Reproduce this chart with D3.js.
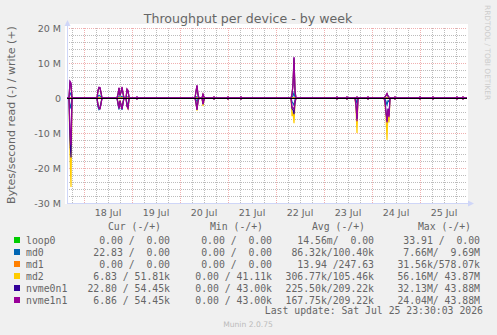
<!DOCTYPE html>
<html>
<head>
<meta charset="utf-8">
<script src="https://cdn.jsdelivr.net/npm/d3@7"></script>
<style>
  body { margin: 0; background: #f0f0f0; }
  svg { display: block; }
  text { fill: #666666; }
  .mono { font-family: "DejaVu Sans Mono", monospace; font-size: 9.8px; white-space: pre; }
</style>
</head>
<body>
<script>
// sample times (30 min steps, only the samples around activity are listed)
var times = [
  "2026-07-17 15:30",
  "2026-07-17 16:30","2026-07-17 17:00","2026-07-17 17:30","2026-07-17 18:00",
  "2026-07-18 06:30","2026-07-18 07:00","2026-07-18 07:30","2026-07-18 08:00","2026-07-18 08:30","2026-07-18 09:00",
  "2026-07-18 16:30","2026-07-18 17:00","2026-07-18 17:30","2026-07-18 18:00","2026-07-18 18:30","2026-07-18 19:00","2026-07-18 19:30","2026-07-18 20:00",
  "2026-07-18 21:00","2026-07-18 21:30","2026-07-18 22:00","2026-07-18 22:30","2026-07-18 23:00",
  "2026-07-19 02:00","2026-07-19 02:30","2026-07-19 03:00",
  "2026-07-20 07:30","2026-07-20 08:00","2026-07-20 08:30","2026-07-20 09:00","2026-07-20 09:30",
  "2026-07-20 11:00","2026-07-20 11:30","2026-07-20 12:00","2026-07-20 12:30",
  "2026-07-20 16:30","2026-07-20 17:00","2026-07-20 17:30",
  "2026-07-20 23:30","2026-07-21 00:00","2026-07-21 00:30",
  "2026-07-21 06:00","2026-07-21 06:30","2026-07-21 07:00",
  "2026-07-22 07:30","2026-07-22 08:00","2026-07-22 08:30","2026-07-22 09:00","2026-07-22 09:30","2026-07-22 10:00",
  "2026-07-23 06:00","2026-07-23 06:30","2026-07-23 07:00",
  "2026-07-23 11:00","2026-07-23 11:30","2026-07-23 12:00",
  "2026-07-23 15:30","2026-07-23 16:00","2026-07-23 16:30","2026-07-23 17:00",
  "2026-07-23 21:30","2026-07-23 22:00","2026-07-23 22:30",
  "2026-07-24 06:00","2026-07-24 06:30","2026-07-24 07:00","2026-07-24 07:30","2026-07-24 08:00","2026-07-24 08:30","2026-07-24 09:00",
  "2026-07-24 11:00","2026-07-24 11:30","2026-07-24 12:00",
  "2026-07-24 23:30","2026-07-25 00:00","2026-07-25 00:30",
  "2026-07-25 06:00","2026-07-25 06:30","2026-07-25 07:00",
  "2026-07-25 18:00","2026-07-25 18:30","2026-07-25 19:00",
  "2026-07-25 21:00","2026-07-25 21:30","2026-07-25 22:00",
  "2026-07-25 23:30"
];

// values in MB/s (read drawn below zero, write above)
var md0Read = [0,
  0,2,3,0,
  0,2.5,3.3,3.0,1.5,0,
  0,1.8,3.3,0.8,2.2,3.4,1.2,0,
  0,1.5,2.0,0.2,0,
  0,0.05,0,
  0,0.5,1.0,0.3,0,
  0,0.3,0.1,0,
  0,0.05,0,
  0,0.05,0,
  0,0.05,0,
  0,1.0,1.5,2.0,0.5,0,
  0,0.05,0,
  0,0.05,0,
  0,0.5,1.5,0,
  0,0.05,0,
  0,0.3,1.0,2.0,0.8,1.0,0,
  0,0.05,0,
  0,0.05,0,
  0,0.05,0,
  0,0.05,0,
  0,0.05,0,
  0];
var md0Write = [0,
  0,1.5,1,0,
  0,0.5,0.8,0.6,0.3,0,
  0,0.2,0.4,0.1,0.3,0.5,0.2,0,
  0,0.3,0.3,0,0,
  0,0.05,0,
  0,0.2,0.4,0.1,0,
  0,0.1,0,0,
  0,0.05,0,
  0,0.05,0,
  0,0.05,0,
  0,0.2,0.6,1.5,0.3,0,
  0,0.05,0,
  0,0.05,0,
  0,0,0.05,0,
  0,0.05,0,
  0,0,0.1,0.2,0.1,0,0,
  0,0.05,0,
  0,0.05,0,
  0,0.05,0,
  0,0.05,0,
  0,0.05,0,
  0];
var md2Read = [0,
  0,16,25.4,0,
  0,1.9,2.9,3.0,1.5,0,
  0,1.4,2.9,0.7,1.9,3.1,1.3,0,
  0,2.2,3.3,0.5,0,
  0,0.2,0,
  0,1.4,3.6,1.0,0,
  0,2.3,0.6,0,
  0,0.25,0,
  0,0.25,0,
  0,0.25,0,
  0,5.2,4.0,7.2,1.5,0,
  0,0.25,0,
  0,0.25,0,
  0,3.0,10.0,0,
  0,0.25,0,
  0,1.5,5.0,12.0,3.5,7.0,0,
  0,0.25,0,
  0,0.25,0,
  0,0.25,0,
  0,0.25,0,
  0,0.25,0,
  0];
var md2Write = [0,
  0,4.5,3.5,0,
  0,2.0,2.9,2.8,1.5,0,
  0,1.0,2.8,0.7,1.6,3.0,1.3,0,
  0,2.4,2.0,0.2,0,
  0,0.2,0,
  0,1.8,3.4,0.9,0,
  0,1.0,0.2,0,
  0,0.25,0,
  0,0.25,0,
  0,0.25,0,
  0,0.9,3.7,11.2,1.8,0,
  0,0.25,0,
  0,0.25,0,
  0,0.1,0.3,0,
  0,0.25,0,
  0,0.3,0.7,1.2,0.5,0.2,0,
  0,0.25,0,
  0,0.25,0,
  0,0.25,0,
  0,0.25,0,
  0,0.25,0,
  0];
var nvme0n1Read = [0,
  0,12,17,0,
  0,2.0,2.9,2.9,1.5,0,
  0,1.4,2.9,0.8,1.9,3.1,1.4,0,
  0,2.3,2.8,0.3,0,
  0,0.25,0,
  0,1.4,3.3,0.9,0,
  0,1.7,0.4,0,
  0,0.25,0,
  0,0.25,0,
  0,0.25,0,
  0,3.0,3.4,4.6,1.4,0,
  0,0.25,0,
  0,0.25,0,
  0,2.0,6.0,0,
  0,0.25,0,
  0,1.0,4.0,6.6,3.0,5.0,0,
  0,0.25,0,
  0,0.25,0,
  0,0.25,0,
  0,0.25,0,
  0,0.25,0,
  0];
var nvme0n1Write = [0,
  0,4.6,4.0,0,
  0,2.0,3.0,2.9,1.5,0,
  0,1.0,2.8,0.7,1.6,3.0,1.3,0,
  0,2.4,2.0,0.2,0,
  0,0.25,0,
  0,1.8,3.5,0.9,0,
  0,1.0,0.3,0,
  0,0.25,0,
  0,0.25,0,
  0,0.25,0,
  0,0.9,3.8,11.5,1.8,0,
  0,0.25,0,
  0,0.25,0,
  0,0.1,0.3,0,
  0,0.25,0,
  0,0.3,0.7,1.2,0.6,0.2,0,
  0,0.25,0,
  0,0.25,0,
  0,0.25,0,
  0,0.25,0,
  0,0.25,0,
  0];
var nvme1n1Read = [0,
  0,9,13.5,0,
  0,2.0,3.0,3.1,1.8,0,
  0,1.5,3.0,0.8,2.0,3.2,1.5,0,
  0,2.4,3.0,0.4,0,
  0,0.3,0,
  0,1.5,3.4,1.0,0,
  0,1.8,0.5,0,
  0,0.3,0,
  0,0.3,0,
  0,0.3,0,
  0,2.5,2.8,3.2,1.2,0,
  0,0.3,0,
  0,0.3,0,
  0,2.0,6.6,0,
  0,0.3,0,
  0,1.0,4.2,7.0,3.2,5.5,0,
  0,0.3,0,
  0,0.3,0,
  0,0.3,0,
  0,0.3,0,
  0,0.3,0,
  0];
var nvme1n1Write = [0,
  0,4.8,4.3,0,
  0,2.2,3.1,3.0,1.6,0,
  0,1.2,3.0,0.8,1.8,3.2,1.5,0,
  0,2.6,2.2,0.3,0,
  0,0.3,0,
  0,2.0,3.7,1.0,0,
  0,1.1,0.3,0,
  0,0.3,0,
  0,0.3,0,
  0,0.3,0,
  0,1.0,4.0,11.7,2.0,0,
  0,0.3,0,
  0,0.3,0,
  0,0.1,0.3,0,
  0,0.3,0,
  0,0.3,0.8,1.3,0.6,0.2,0,
  0,0.3,0,
  0,0.3,0,
  0,0.3,0,
  0,0.3,0,
  0,0.3,0,
  0];
// loop0 and md1 never rise above a few kB/s: flat from first to last sample
var flatTimes = ["2026-07-17 15:30", "2026-07-25 23:30"];
var loop0Read = [0, 0], loop0Write = [0, 0];
var md1Read = [0, 0], md1Write = [0, 0];

// legend
var devices = ["loop0", "md0", "md1", "md2", "nvme0n1", "nvme1n1"];
var colors = ["#00cc00", "#0066b3", "#ff8000", "#ffcc00", "#330099", "#990099"];
var curVals = ["0.00 /  0.00", "22.83 /  0.00", "0.00 /  0.00", "6.83 / 51.81k", "22.80 / 54.45k", "6.86 / 54.45k"];
var minVals = ["0.00 /  0.00", "0.00 /  0.00", "0.00 /  0.00", "0.00 / 41.11k", "0.00 / 43.00k", "0.00 / 43.00k"];
var avgVals = ["14.56m/  0.00", "86.32k/100.40k", "13.94 /247.63", "306.77k/105.46k", "225.50k/209.22k", "167.75k/209.22k"];
var maxVals = ["33.91 /  0.00", "7.66M/  9.69M", "31.56k/578.07k", "56.16M/ 43.87M", "32.13M/ 43.88M", "24.04M/ 43.88M"];
var yTicks = [-30, -20, -10, 0, 10, 20];

var series = [
  {t: flatTimes, r: loop0Read, w: loop0Write},
  {t: times, r: md0Read, w: md0Write},
  {t: flatTimes, r: md1Read, w: md1Write},
  {t: times, r: md2Read, w: md2Write},
  {t: times, r: nvme0n1Read, w: nvme0n1Write},
  {t: times, r: nvme1n1Read, w: nvme1n1Write}
];

var width = 497, height = 335;
var plotL = 67, plotR = 467, plotT = 28, plotB = 203;

var parseTime = d3.timeParse("%Y-%m-%d %H:%M");
var x = d3.scaleTime()
  .domain([parseTime("2026-07-17 15:30"), parseTime("2026-07-25 23:30")])
  .range([plotL, plotR]);
var y = d3.scaleLinear().domain([-30, 20]).range([plotB, plotT]);

var svg = d3.select("body").append("svg")
  .attr("width", width)
  .attr("height", height);

svg.append("rect").attr("width", width).attr("height", height).attr("fill", "#f0f0f0");
svg.append("rect")
  .attr("x", plotL - 2).attr("y", plotT - 4)
  .attr("width", plotR - plotL + 3).attr("height", plotB - plotT + 5)
  .attr("fill", "#ffffff");

// grid
var minorCol = "rgba(143,143,143,0.6)", majorCol = "rgba(222,79,79,0.45)";
var grid = svg.append("g").attr("shape-rendering", "crispEdges").attr("stroke-dasharray", "1,1");
var minorY = d3.range(-30, 21, 2).filter(function(v) { return v % 10 !== 0; });
grid.selectAll(".hmin").data(minorY).enter().append("line")
  .attr("x1", plotL).attr("x2", plotR)
  .attr("y1", function(d) { return Math.round(y(d)) + 0.5; })
  .attr("y2", function(d) { return Math.round(y(d)) + 0.5; })
  .attr("stroke", minorCol);
var hours = x.ticks(d3.timeHour.every(6)).filter(function(d) { return d.getHours() !== 0; });
grid.selectAll(".vmin").data(hours).enter().append("line")
  .attr("x1", function(d) { return Math.round(x(d)) + 0.5; })
  .attr("x2", function(d) { return Math.round(x(d)) + 0.5; })
  .attr("y1", plotT).attr("y2", plotB)
  .attr("stroke", minorCol);
grid.selectAll(".hmaj").data(yTicks).enter().append("line")
  .attr("x1", plotL).attr("x2", plotR)
  .attr("y1", function(d) { return Math.round(y(d)) + 0.5; })
  .attr("y2", function(d) { return Math.round(y(d)) + 0.5; })
  .attr("stroke", majorCol);
var days = x.ticks(d3.timeDay.every(1));
grid.selectAll(".vmaj").data(days).enter().append("line")
  .attr("x1", function(d) { return Math.round(x(d)) + 0.5; })
  .attr("x2", function(d) { return Math.round(x(d)) + 0.5; })
  .attr("y1", plotT).attr("y2", plotB)
  .attr("stroke", majorCol);

// axes
var axisCol = "#cfd6f8";
svg.append("line").attr("x1", plotL + 0.5).attr("x2", plotL + 0.5).attr("y1", plotB).attr("y2", 24)
  .attr("stroke", axisCol).attr("shape-rendering", "crispEdges");
svg.append("line").attr("x1", plotL).attr("x2", 469).attr("y1", plotB + 0.5).attr("y2", plotB + 0.5)
  .attr("stroke", axisCol).attr("shape-rendering", "crispEdges");
svg.append("path").attr("d", "M" + (plotL + 0.5) + ",20L" + (plotL - 2.5) + ",26L" + (plotL + 3.5) + ",26Z").attr("fill", axisCol);
svg.append("path").attr("d", "M474," + (plotB + 0.5) + "L468," + (plotB - 2.5) + "L468," + (plotB + 3.5) + "Z").attr("fill", axisCol);

// lines
var line = d3.line()
  .x(function(d) { return x(d.t); })
  .y(function(d) { return y(d.v); });

series.forEach(function(s, i) {
  var reads = s.t.map(function(t, j) { return {t: parseTime(t), v: -s.r[j]}; });
  var writes = s.t.map(function(t, j) { return {t: parseTime(t), v: s.w[j]}; });
  [reads, writes].forEach(function(pts) {
    svg.append("path")
      .attr("d", line(pts))
      .attr("fill", "none")
      .attr("stroke", colors[i])
      .attr("stroke-width", 1.2);
  });
});

// zero line
svg.append("line")
  .attr("x1", plotL).attr("x2", plotR)
  .attr("y1", Math.round(y(0)) + 0.5).attr("y2", Math.round(y(0)) + 0.5)
  .attr("stroke", "#000").attr("shape-rendering", "crispEdges");

// tick labels
svg.selectAll(".ylab").data(yTicks).enter().append("text")
  .attr("x", 61).attr("y", function(d) { return y(d) + 3.5; })
  .attr("text-anchor", "end")
  .style("font-family", "DejaVu Sans").style("font-size", "9.5px")
  .text(function(d) { return d === 0 ? "0" : d + " M"; });

var noons = days.map(function(d) { return d3.timeHour.offset(d, 12); })
  .filter(function(d) { return x(d) < plotR; });
svg.selectAll(".xlab").data(noons).enter().append("text")
  .attr("x", function(d) { return x(d); }).attr("y", 216)
  .attr("text-anchor", "middle")
  .style("font-family", "DejaVu Sans").style("font-size", "9.5px")
  .text(d3.timeFormat("%-d %b"));

// title and labels
svg.append("text")
  .attr("x", 248).attr("y", 23)
  .attr("text-anchor", "middle")
  .style("font-family", "DejaVu Sans").style("font-size", "12.6px")
  .text("Throughput per device - by week");

svg.append("text")
  .attr("transform", "translate(15,115)rotate(-90)")
  .attr("text-anchor", "middle")
  .style("font-family", "DejaVu Sans").style("font-size", "11px")
  .text("Bytes/second read (-) / write (+)");

svg.append("text")
  .attr("transform", "translate(485,5)rotate(90)")
  .attr("text-anchor", "start")
  .style("font-family", "DejaVu Sans").style("font-size", "7.4px")
  .style("fill", "#cccccc")
  .text("RRDTOOL / TOBI OETIKER");

// legend
var colEnds = [170, 272, 374, 480];
var headers = ["Cur (-/+)", "Min (-/+)", "Avg (-/+)", "Max (-/+)"];
var cols = [curVals, minVals, avgVals, maxVals];

headers.forEach(function(h, c) {
  svg.append("text").attr("class", "mono")
    .attr("x", colEnds[c] - 9).attr("y", 230)
    .attr("text-anchor", "end")
    .text(h);
});

devices.forEach(function(name, i) {
  var yy = 243.5 + i * 12;
  svg.append("rect")
    .attr("x", 14).attr("y", yy - 6.5)
    .attr("width", 6).attr("height", 6)
    .attr("fill", colors[i]);
  svg.append("text").attr("class", "mono")
    .attr("x", 26).attr("y", yy)
    .text(name);
  cols.forEach(function(vals, c) {
    svg.append("text").attr("class", "mono")
      .attr("x", colEnds[c]).attr("y", yy)
      .attr("text-anchor", "end")
      .text(vals[i]);
  });
});

svg.append("text").attr("class", "mono")
  .attr("x", 483).attr("y", 314)
  .attr("text-anchor", "end")
  .text("Last update: Sat Jul 25 23:30:03 2026");

svg.append("text")
  .attr("x", 248).attr("y", 327)
  .attr("text-anchor", "middle")
  .style("font-family", "DejaVu Sans").style("font-size", "7.6px")
  .style("fill", "#bbbbbb")
  .text("Munin 2.0.75");
</script>
</body>
</html>
